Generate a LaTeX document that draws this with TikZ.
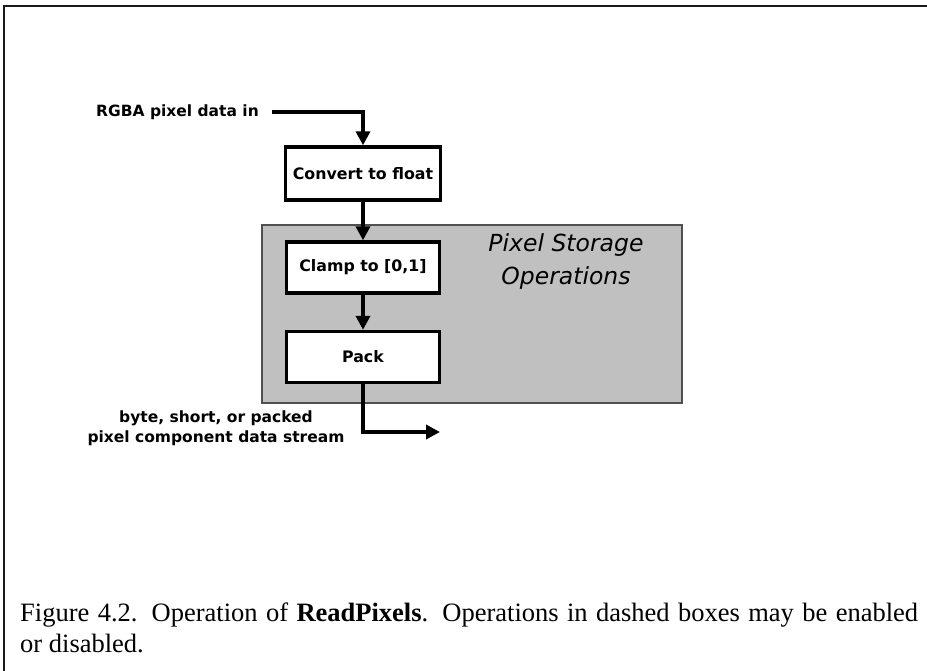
\documentclass[tikz,border=0pt]{standalone}
\usepackage{fontspec}
\setmainfont{Liberation Serif}
\newfontfamily\lblfont{DejaVu Sans}
\usetikzlibrary{arrows.meta}

\definecolor{panelgray}{RGB}{192,192,192}
\definecolor{paneledge}{RGB}{80,80,80}

\tikzset{
  opbox/.style={draw=black, line width=3.4pt, fill=white,
    minimum width=153pt, minimum height=51pt, inner sep=0pt,
    font=\lblfont\bfseries\fontsize{15.8}{20}\selectfont},
  flow/.style={line width=4pt, -{Triangle[length=14pt,width=14pt]}},
  lbl/.style={inner sep=0pt, font=\lblfont\bfseries\fontsize{15.5}{20}\selectfont},
  captxt/.style={inner sep=0pt, anchor=base west,
    font=\fontsize{26.5}{31}\selectfont},
}

\begin{document}
\begin{tikzpicture}[x=1pt, y=-1pt]
  \useasboundingbox (0,0) rectangle (927,670);

  % page frame (top and left edges)
  \draw[line width=1.3pt, black!90] (927,6) -- (4,6) -- (4,671);

  % pixel storage panel
  \node[draw=paneledge, line width=1.3pt, fill=panelgray,
        minimum width=420pt, minimum height=178pt, inner sep=0pt]
        (panel) at (472,314) {};
  \node[inner sep=0pt, align=center,
        font=\lblfont\itshape\fontsize{23.5}{33}\selectfont]
        (pso) at (566,262) {Pixel Storage\\Operations};

  % operation boxes
  \node[opbox, minimum width=155pt, minimum height=53pt] (conv) at (363,173.5) {Convert to float};
  \node[opbox] (clamp) at (363,267.5) {Clamp to [0,1]};
  \node[opbox] (pack)  at (363,357) {Pack};

  % input label and flow
  \node[lbl, anchor=east] (rgba) at (259,112) {RGBA pixel data in};
  \coordinate (inA) at (272,112);
  \draw[flow] (inA) -| (conv.north);
  \draw[flow] (conv.south) -- (clamp.north);
  \draw[flow] (clamp.south) -- (pack.north);

  % output flow and label
  \coordinate (outA) at (440,432);
  \draw[flow] (pack.south) |- (outA);
  \node[lbl, align=center] (outlbl) at (216,428)
        {byte, short, or packed\\pixel component data stream};

  % caption
  \node[captxt] (cap1) at (20,621)
    {\makebox[898pt][s]{Figure 4.2. Operation of \textbf{ReadPixels}. Operations in dashed boxes may be enabled}};
  \node[captxt] (cap2) at (20,652) {or disabled.};
\end{tikzpicture}
\end{document}
